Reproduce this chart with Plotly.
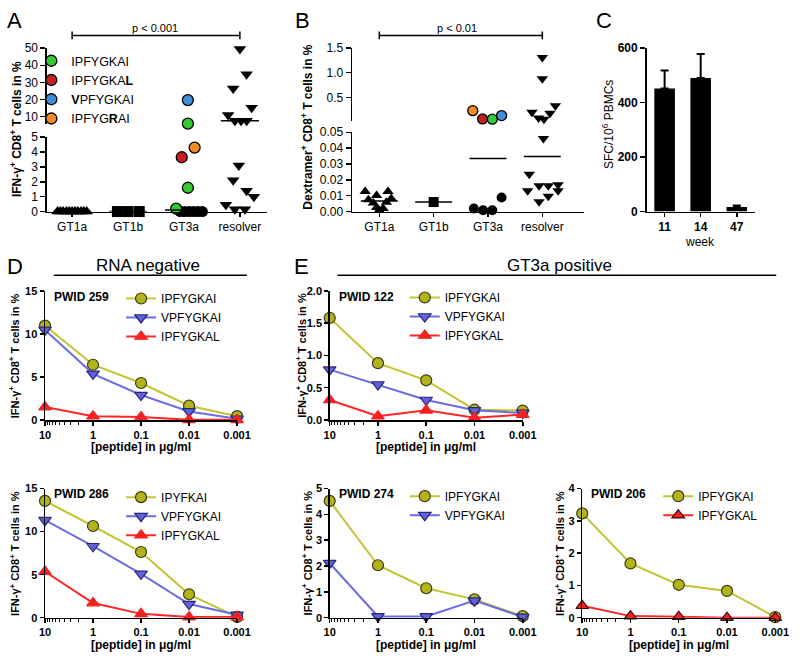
import plotly.graph_objects as go
import statistics

# ------------------------------------------------------------------ data
# Panel A : IFN-gamma+ CD8+ T cells in %
A_categories = ["GT1a", "GT1b", "GT3a", "resolver"]
A_gt1a_values = [0, 0, 0, 0, 0, 0, 0, 0, 0, 0, 0]
A_gt1a_jitter = [-0.26, -0.21, -0.16, -0.10, -0.05, 0.0, 0.05, 0.10, 0.16, 0.21, 0.26]
A_gt1b_values = [0, 0, 0]
A_gt1b_jitter = [-0.19, 0.0, 0.20]
A_gt3a_values = [0.2, 0, 0, 0, 0, 0, 0, 3.65, 4.3, 1.6, 6.0, 19.7]
A_gt3a_jitter = [-0.14, -0.07, 0.01, 0.09, 0.17, 0.25, 0.33, -0.04, 0.19, 0.07, 0.07, 0.07]
A_gt3a_peptide = ["IPFYGKAI", "", "", "", "", "", "", "IPFYGKAL", "IPFYGRAI",
                  "IPFYGKAI", "IPFYGKAI", "VPFYGKAI"]
A_resolver_values = [49.5, 34.8, 26.5, 15.3, 11.0, 7.6, 7.6, 7.6, 3.1, 2.1, 1.4, 1.0, 0.45, 0.15, 0.15]
A_resolver_jitter = [0.0, 0.12, -0.12, 0.21, -0.21, -0.09, 0.02, 0.12, -0.02, -0.12, 0.12, 0.25, -0.25, -0.09, 0.09]

# Panel B : Dextramer+ CD8+ T cells in %
B_categories = ["GT1a", "GT1b", "GT3a", "resolver"]
B_gt1a_values = [0.0126, 0.0101, 0.0126, 0.0074, 0.0054, 0.0025, 0.0008, 0.0020, 0.0058, 0.0083]
B_gt1a_jitter = [-0.26, -0.05, 0.16, -0.20, -0.11, -0.05, 0.0, 0.07, 0.13, 0.22]
B_gt1b_values = [0.006]
B_gt1b_jitter = [0.0]
B_gt3a_values = [0.23, 0.062, 0.058, 0.13, 0.0019, 0.0008, 0.0008, 0.0089]
B_gt3a_jitter = [-0.28, -0.10, 0.08, 0.25, -0.26, -0.09, 0.08, 0.25]
B_gt3a_peptide = ["IPFYGRAI", "IPFYGKAL", "IPFYGKAI", "VPFYGKAI", "", "", "", ""]
B_resolver_values = [1.31, 0.88, 0.20, 0.08, 0.055, 0.18, 0.33, 0.046, 0.0236, 0.0162,
                     0.0162, 0.0169, 0.0131, 0.0131, 0.0062, 0.0097]
B_resolver_jitter = [0.0, 0.0, -0.19, -0.07, 0.03, 0.14, 0.24, 0.02, -0.24, -0.06,
                     0.11, 0.29, -0.27, 0.29, -0.06, 0.11]

# Panel C : SFC / 10^6 PBMCs by week
C_weeks = ["11", "14", "47"]
C_sfc = [452, 490, 17]
C_sfc_err = [66, 88, 5]

# Panels D / E : peptide titration
conc = [10, 1, 0.1, 0.01, 0.001]
conc_labels = ["10", "1", "0.1", "0.01", "0.001"]
D1_IPFYGKAI = [10.96, 6.42, 4.30, 1.66, 0.45]
D1_VPFYGKAI = [10.46, 5.36, 2.90, 1.00, 0.15]
D1_IPFYGKAL = [1.50, 0.45, 0.35, 0.02, 0.02]
D2_IPYFKAI = [13.56, 10.65, 7.63, 2.72, 0.10]
D2_VPFYGKAI = [11.33, 8.30, 5.10, 1.59, 0.34]
D2_IPFYGKAL = [5.36, 1.70, 0.45, 0.08, 0.08]
E1_IPFYGKAI = [1.58, 0.88, 0.615, 0.16, 0.146]
E1_VPFYGKAI = [0.78, 0.55, 0.31, 0.15, 0.11]
E1_IPFYGKAL = [0.31, 0.06, 0.15, 0.035, 0.085]
E2_IPFYGKAI = [4.52, 2.03, 1.14, 0.71, 0.06]
E2_VPFYGKAI = [2.11, 0.05, 0.05, 0.66, 0.03]
E3_IPFYGKAI = [3.23, 1.68, 1.02, 0.83, 0.02]
E3_IPFYGKAL = [0.37, 0.05, 0.03, 0.0, 0.0]

# ------------------------------------------------------------------ style
W, H = 800, 658
FONT = "Arial, 'Liberation Sans', Helvetica, sans-serif"
PEP_COLORS = {"IPFYGKAI": "#35c935", "IPFYGKAL": "#c71f1f",
              "VPFYGKAI": "#3f8fd8", "IPFYGRAI": "#f08a26"}
PEP_NAMES = {"IPFYGKAI": "IPFYGKAI", "IPFYGKAL": "IPFYGKA<b>L</b>",
             "VPFYGKAI": "<b>V</b>PFYGKAI", "IPFYGRAI": "IPFYG<b>R</b>AI"}
OLIVE_LINE, OLIVE_FILL = "#c4c432", "#b3b31c"
BLUE_LINE, BLUE_FILL = "#6b6be4", "#6262da"
RED_LINE, RED_FILL = "#ff2626", "#f52020"


def dx(a, b):
    return [a / W, b / W]


def dy(top, bottom):
    return [1 - bottom / H, 1 - top / H]


def tfont(size=12, bold=False):
    return dict(family=FONT, size=size, color="black", weight="bold" if bold else "normal")


def yax(domain, anchor, rng, tickvals, fmt=None, size=12, bold=False, ticklen=5):
    d = dict(domain=domain, anchor=anchor, range=rng, tickvals=tickvals, ticks="outside",
             ticklen=ticklen, tickwidth=1.5, tickcolor="black", showline=True, linecolor="black",
             linewidth=1.5, showgrid=False, zeroline=False, tickfont=tfont(size, bold),
             fixedrange=True)
    if fmt:
        d["tickformat"] = fmt
    return d


fig = go.Figure()
layout = dict(width=W, height=H, autosize=False, margin=dict(l=0, r=0, t=0, b=0),
              paper_bgcolor="white", plot_bgcolor="rgba(0,0,0,0)", showlegend=True,
              font=dict(family=FONT, color="black"))
annotations, shapes = [], []


def ann(text, x, y, size=12, bold=False, angle=0, xanchor="center"):
    annotations.append(dict(text=text, x=x / W, y=1 - y / H, xref="paper", yref="paper",
                            showarrow=False, textangle=angle, xanchor=xanchor, yanchor="middle",
                            font=tfont(size, bold)))


# ------------------------------------------------------------------ panels A & B (broken axes)
PEP_RANK = {"IPFYGKAI": 1, "IPFYGKAL": 2, "VPFYGKAI": 3, "IPFYGRAI": 4}


def scatter_panel(xa, ylo, yhi, cats, threshold, marker_size, legend_name=None):
    legend_done = set()
    for ci, (vals, jit, symbol, peps) in enumerate(cats):
        groups = {}
        for k, (v, j) in enumerate(zip(vals, jit)):
            pep = peps[k] if peps else ""
            seg = yhi if v > threshold else ylo
            groups.setdefault((pep, seg), []).append((ci + j, v))
        for pep in ["", "IPFYGKAI", "IPFYGKAL", "VPFYGKAI", "IPFYGRAI"]:
            for seg in (ylo, yhi):
                pts = groups.get((pep, seg))
                if not pts:
                    continue
                color = PEP_COLORS.get(pep, "black")
                show = bool(pep) and legend_name is not None and pep not in legend_done
                if show:
                    legend_done.add(pep)
                fig.add_trace(go.Scatter(
                    x=[p[0] for p in pts], y=[p[1] for p in pts], mode="markers",
                    xaxis=xa, yaxis=seg, cliponaxis=False,
                    marker=dict(symbol=symbol, size=marker_size, color=color,
                                line=dict(color="black", width=1.3 if pep else 0)),
                    name=PEP_NAMES.get(pep, "points"), showlegend=show,
                    legend=legend_name if legend_name else "legend",
                    legendrank=PEP_RANK.get(pep, 9), hoverinfo="skip"))
        med = statistics.median(vals)
        seg = yhi if med > threshold else ylo
        fig.add_trace(go.Scatter(x=[ci - 0.34, ci + 0.34], y=[med, med], mode="lines",
                                 xaxis=xa, yaxis=seg, line=dict(color="black", width=1.5),
                                 name="median", showlegend=False, hoverinfo="skip",
                                 cliponaxis=False))


scatter_panel("x", "y", "y2", [
    (A_gt1a_values, A_gt1a_jitter, "triangle-up", None),
    (A_gt1b_values, A_gt1b_jitter, "square", None),
    (A_gt3a_values, A_gt3a_jitter, "circle", A_gt3a_peptide),
    (A_resolver_values, A_resolver_jitter, "triangle-down", None),
], 5.0, 11, legend_name="legend")

scatter_panel("x2", "y3", "y4", [
    (B_gt1a_values, B_gt1a_jitter, "triangle-up", None),
    (B_gt1b_values, B_gt1b_jitter, "square", None),
    (B_gt3a_values, B_gt3a_jitter, "circle", B_gt3a_peptide),
    (B_resolver_values, B_resolver_jitter, "triangle-down", None),
], 0.05, 10, legend_name=None)

cat_axis = dict(tickmode="array", tickvals=[0, 1, 2, 3], ticks="outside", ticklen=4,
                tickwidth=1.5, tickcolor="black", showline=True, linecolor="black", linewidth=1.5,
                showgrid=False, zeroline=False, tickfont=tfont(12), fixedrange=True)
layout["xaxis"] = dict(cat_axis, domain=dx(42, 268), anchor="y", range=[-0.45, 3.49],
                       ticktext=A_categories)
layout["yaxis"] = yax(dy(133, 209), "x", [0, 5], [0, 1, 2, 3, 4, 5])
layout["yaxis2"] = yax(dy(42, 120), "x", [5.5, 50], [10, 20, 30, 40, 50])
layout["xaxis2"] = dict(cat_axis, domain=dx(355, 593), anchor="y3", range=[-0.5, 3.77],
                        ticktext=B_categories)
layout["yaxis3"] = yax(dy(128, 209), "x2", [0, 0.05], [0, 0.01, 0.02, 0.03, 0.04, 0.05], ".2f")
layout["yaxis4"] = yax(dy(42, 116), "x2", [0.03, 1.5], [0.5, 1.0, 1.5], ".1f")

layout["legend"] = dict(x=26 / W, y=1 - 40 / H, xanchor="left", yanchor="top",
                        bgcolor="rgba(0,0,0,0)", borderwidth=0, font=tfont(12.5),
                        itemwidth=30, tracegroupgap=0, traceorder="normal")

# ------------------------------------------------------------------ panel C (bars)
fig.add_trace(go.Bar(x=C_weeks, y=C_sfc, xaxis="x3", yaxis="y5", width=0.57,
                     marker=dict(color="black", line=dict(width=0)),
                     error_y=dict(type="data", array=C_sfc_err, arrayminus=[0] * len(C_sfc),
                                  symmetric=False, color="black", thickness=2, width=4),
                     name="SFC", showlegend=False, hoverinfo="skip"))
layout["xaxis3"] = dict(domain=dx(657, 768), anchor="y5", type="category", range=[-0.5, 2.5],
                        showline=True, linecolor="black", linewidth=1.5, ticks="outside",
                        ticklen=4, tickwidth=1.5, tickcolor="black",
                        showgrid=False, zeroline=False, tickfont=tfont(12, True), fixedrange=True)
layout["yaxis5"] = yax(dy(42, 209), "x3", [0, 600], [0, 200, 400, 600], bold=True)

# ------------------------------------------------------------------ panels D / E (titration)
series_style = {
    "olive": dict(line=OLIVE_LINE, fill=OLIVE_FILL, edge="#3a3a10", symbol="circle"),
    "blue": dict(line=BLUE_LINE, fill=BLUE_FILL, edge="#26267a", symbol="triangle-down"),
    "red": dict(line=RED_LINE, fill=RED_FILL, edge=RED_FILL, symbol="triangle-up"),
    "redk": dict(line=RED_LINE, fill=RED_FILL, edge="#3a0a0a", symbol="triangle-up"),
}

titration = [
    # x axis, y axis, x px span, y px span, y range, y ticks, format, series,
    # legend id, legend px position, label, y-title offset
    ("x4", "y6", (40, 237), (290, 422), [0, 15], [0, 5, 10, 15], None,
     [("IPFYGKAI", D1_IPFYGKAI, "olive"), ("VPFYGKAI", D1_VPFYGKAI, "blue"),
      ("IPFYGKAL", D1_IPFYGKAL, "red")], "legend2", (118, 283), "PWID 259", 31),
    ("x5", "y7", (40, 237), (492, 624), [0, 15], [0, 5, 10, 15], None,
     [("IPYFKAI", D2_IPYFKAI, "olive"), ("VPFYGKAI", D2_VPFYGKAI, "blue"),
      ("IPFYGKAL", D2_IPFYGKAL, "red")], "legend3", (118, 486), "PWID 286", 31),
    ("x6", "y8", (332, 530), (290, 422), [0, 2], [0, 0.5, 1.0, 1.5, 2.0], ".1f",
     [("IPFYGKAI", E1_IPFYGKAI, "olive"), ("VPFYGKAI", E1_VPFYGKAI, "blue"),
      ("IPFYGKAL", E1_IPFYGKAL, "red")], "legend4", (409, 282), "PWID 122", 29),
    ("x7", "y9", (332, 530), (492, 624), [0, 5], [0, 1, 2, 3, 4, 5], None,
     [("IPFYGKAI", E2_IPFYGKAI, "olive"), ("VPFYGKAI", E2_VPFYGKAI, "blue")],
     "legend5", (409, 485), "PWID 274", 23),
    ("x8", "y10", (591, 789), (492, 624), [0, 4], [0, 1, 2, 3, 4], None,
     [("IPFYGKAI", E3_IPFYGKAI, "olive"), ("IPFYGKAL", E3_IPFYGKAL, "redk")],
     "legend6", (669, 485), "PWID 206", 23),
]

for xa, ya, (x0, x1), (y0, y1), yr, yt, fmt, series, leg, (lx, ly), pwid, toff in titration:
    for name, vals, sty in series:
        s = series_style[sty]
        fig.add_trace(go.Scatter(
            x=conc, y=vals, mode="lines+markers", xaxis=xa, yaxis=ya, cliponaxis=False,
            line=dict(color=s["line"], width=2),
            marker=dict(symbol=s["symbol"], size=11, color=s["fill"],
                        line=dict(color=s["edge"], width=1.2)),
            name=name, legend=leg, hoverinfo="skip"))
    layout["xaxis" + xa[1:]] = dict(
        domain=dx(x0, x1), anchor=ya, type="log", range=[1, -3],
        tickmode="array", tickvals=conc, ticktext=conc_labels, ticks="outside", ticklen=4,
        tickwidth=1.5, tickcolor="black", showline=True, linecolor="black", linewidth=1.5,
        showgrid=False, zeroline=False, tickfont=tfont(11, True), fixedrange=True,
        minor=dict(tickmode="array", tickvals=[2, 3, 4, 5, 6, 7, 8, 9], ticks="outside",
                   ticklen=3, tickwidth=1, tickcolor="black", showgrid=False))
    layout["yaxis" + ya[1:]] = yax(dy(y0, y1), xa, yr, yt, fmt, size=11, bold=True, ticklen=4)
    layout[leg] = dict(x=lx / W, y=1 - ly / H, xanchor="left", yanchor="top",
                       bgcolor="rgba(0,0,0,0)", borderwidth=0, font=tfont(12),
                       itemwidth=30, tracegroupgap=0)
    ann("IFN-γ<sup>+</sup> CD8<sup>+</sup> T cells in %", x0 - toff, (y0 + y1) / 2,
        size=11, bold=True, angle=-90)
    ann("[peptide] in μg/ml", (x0 + x1) / 2, y1 + 28, size=12, bold=True)
    ann(pwid, x0 + 7, y0 + 6, size=12, bold=True, xanchor="left")

# ------------------------------------------------------------------ text & decorations
for letter, lx, ly in [("A", 9, 14), ("B", 304, 14), ("C", 613, 14), ("D", 9, 265), ("E", 303, 265)]:
    ann(letter, lx, ly, size=22)

ann("IFN-γ<sup>+</sup> CD8<sup>+</sup> T cells in %", 11, 125, bold=True, angle=-90)
ann("Dextramer<sup>+</sup> CD8<sup>+</sup> T cells in %", 309, 122, bold=True, angle=-90)
ann("SFC/10<sup>6</sup> PBMCs", 618, 120, size=12, angle=-90)
ann("week", 712, 240, size=12)
ann("p < 0.001", 153, 21, size=11)
ann("p < 0.01", 463, 21, size=11)
ann("RNA negative", 146, 264, size=17)
ann("GT3a positive", 568, 264, size=17)

line_style = dict(color="black", width=1.5)
for xref, a, b in [("x", 0, 3), ("x2", 0, 3)]:
    y = 1 - 29 / H
    shapes.append(dict(type="line", xref=xref, yref="paper", x0=a, x1=b, y0=y, y1=y, line=line_style))
    for xv in (a, b):
        shapes.append(dict(type="line", xref=xref, yref="paper", x0=xv, x1=xv,
                           y0=1 - 25 / H, y1=1 - 33 / H, line=line_style))
for a, b in [(49, 247), (340, 790)]:
    shapes.append(dict(type="line", xref="paper", yref="paper", x0=a / W, x1=b / W,
                       y0=1 - 274 / H, y1=1 - 274 / H, line=line_style))

layout["annotations"] = annotations
layout["shapes"] = shapes
fig.update_layout(**layout)

fig.write_html("out.html", config={"displayModeBar": False, "staticPlot": True},
               post_script="document.body.style.margin='0px';")
